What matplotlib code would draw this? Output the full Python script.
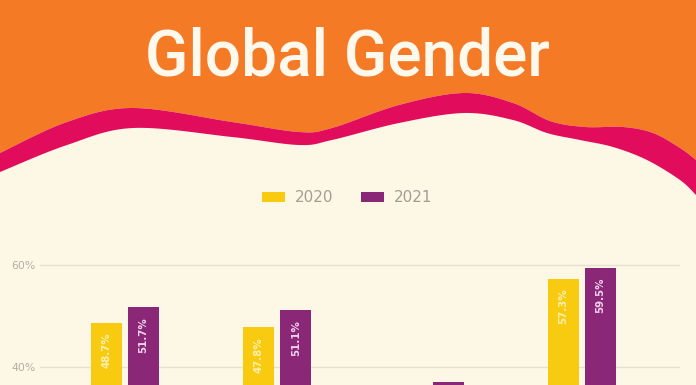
import numpy as np
import matplotlib
matplotlib.use("Agg")
import matplotlib.pyplot as plt

# ---- data ----
categories = ["Group A", "Group B", "Group C", "Group D"]
series_names = ["2020", "2021"]
values_2020 = [48.7, 47.8, 35.0, 57.3]
values_2021 = [51.7, 51.1, 37.1, 59.5]
y_ticks = [0, 20, 40, 60]
y_tick_labels = ["0%", "20%", "40%", "60%"]
title_text = "Global Gender"

# ---- style ----
ORANGE = "#F57A26"
MAGENTA = "#E10C5C"
CREAM = "#FDF8E6"
YELLOW = "#F8CB10"
PURPLE = "#8A2777"
GRID = "#E6E0CE"
GREY = "#A39E95"

W, H = 696, 385
fig = plt.figure(figsize=(W / 100, H / 100), dpi=100, facecolor=CREAM)

# decorative background header
bg = fig.add_axes([0, 0, 1, 1], zorder=0)
bg.set_xlim(0, W)
bg.set_ylim(H, 0)
bg.axis("off")


def catmull(pts, n=24):
    pts = np.asarray(pts, float)
    p = np.vstack([pts[0], pts, pts[-1]])
    out = []
    for i in range(1, len(p) - 2):
        p0, p1, p2, p3 = p[i - 1], p[i], p[i + 1], p[i + 2]
        t = np.linspace(0, 1, n, endpoint=False)[:, None]
        c = 0.5 * ((2 * p1) + (-p0 + p2) * t + (2 * p0 - 5 * p1 + 4 * p2 - p3) * t ** 2
                   + (-p0 + 3 * p1 - 3 * p2 + p3) * t ** 3)
        out.append(c)
    out.append(pts[-1][None, :])
    return np.vstack(out)


top_edge = catmull([(0, 153), (67, 122), (133, 108), (232, 122), (299, 132), (332, 128),
                    (399, 105), (464, 93), (513, 103), (550, 121), (585, 127), (623, 127),
                    (653, 133), (680, 148), (696, 160)])
bot_edge = catmull([(0, 172), (67, 145), (133, 128), (232, 137), (299, 145), (332, 140),
                    (399, 123), (464, 113), (513, 120), (547, 133), (580, 140), (613, 147),
                    (647, 160), (680, 180), (696, 195)])

bg.fill_between(top_edge[:, 0], 0, top_edge[:, 1], color=ORANGE, lw=0)
bg.fill(np.concatenate([top_edge[:, 0], bot_edge[::-1, 0]]),
        np.concatenate([top_edge[:, 1], bot_edge[::-1, 1]]), color=MAGENTA, lw=0)
bg.text(347, 76, title_text, color="#FFF8EC", fontsize=46, fontweight="medium",
        family="Roboto", ha="center", va="baseline")

# main chart
ax_left, ax_right, ax_top = 40, 680, 230
ax = fig.add_axes([ax_left / W, 0, (ax_right - ax_left) / W, (H - ax_top) / H], zorder=2)
ax.set_facecolor("none")

x = np.arange(len(categories))
unit = 152.33
bw = 31 / unit
off = 18.5 / unit

b1 = ax.bar(x - off, values_2020, bw, color=YELLOW, label=series_names[0], zorder=3)
b2 = ax.bar(x + off, values_2021, bw, color=PURPLE, label=series_names[1], zorder=3)

ax.set_yticks(y_ticks)
ax.set_yticklabels(y_tick_labels)

px_per_pct = 5.1
y_bottom = 40 - (H - 367) / px_per_pct
y_top = 60 + (265 - ax_top) / px_per_pct
ax.set_ylim(y_bottom, y_top)
ax.set_xlim(0 - (125 - ax_left) / unit, 3 + (ax_right - 582) / unit)

for bars, vals, tc in ((b1, values_2020, "#FDEFB0"), (b2, values_2021, "#F2D3EC")):
    for r, v in zip(bars, vals):
        if v - 2 < y_bottom:
            continue  # label falls below the visible crop
        ax.annotate(f"{v}%", (r.get_x() + r.get_width() / 2, v), xytext=(0, -7),
                    textcoords="offset points", rotation=90, ha="center", va="top",
                    fontsize=7.4, fontweight="bold", color=tc, zorder=4)

ax.tick_params(axis="y", length=0, pad=3, labelsize=7.8, labelcolor="#B3AEA4")
ax.tick_params(axis="x", length=0, labelbottom=False)
ax.yaxis.grid(True, color=GRID, lw=1)
ax.set_axisbelow(True)
for s in ax.spines.values():
    s.set_visible(False)

leg = ax.legend(loc="center", bbox_to_anchor=(347 / W, 1 - 198 / H),
                bbox_transform=fig.transFigure, ncol=2, frameon=False,
                fontsize=11, handlelength=1.5, handleheight=0.6,
                handletextpad=0.65, columnspacing=1.8, borderpad=0)
for t in leg.get_texts():
    t.set_color(GREY)

fig.savefig("out.png", dpi=100, facecolor=CREAM)
